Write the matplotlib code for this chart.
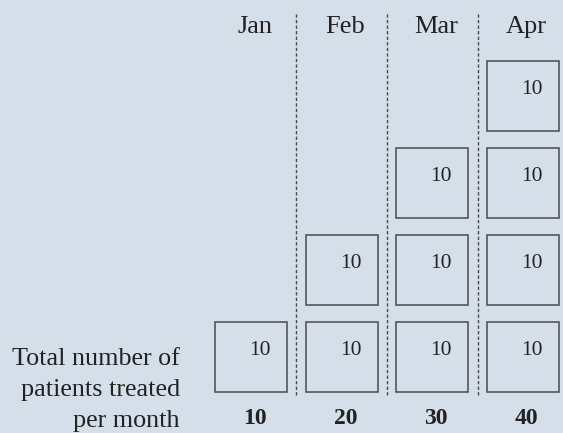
import matplotlib.pyplot as plt
from matplotlib.patches import Rectangle

months = ["Jan", "Feb", "Mar", "Apr"]
# patients treated, one entry per block of treatment in each month
box_values = [
    [10],
    [10, 10],
    [10, 10, 10],
    [10, 10, 10, 10],
]
row_label = ["Total number of", "patients treated", "per month"]

BG = "#d5dfea"
INK = "#222222"
EDGE = "#4a4a4a"

plt.rcParams["font.family"] = ["Liberation Serif", "DejaVu Serif"]
plt.rcParams["lines.scale_dashes"] = False

fig = plt.figure(figsize=(5.63, 4.33), dpi=100, facecolor=BG)
ax = fig.add_axes([0, 0, 1, 1])
ax.set_facecolor(BG)
ax.set_xlim(-2.768, 3.441)
ax.set_ylim(-0.874, 4.103)
ax.axis("off")

box_w, box_h = 0.794, 0.805

for i, vals in enumerate(box_values):
    for j, v in enumerate(vals):
        ax.add_patch(Rectangle((i - box_w / 2, j - box_h / 2), box_w, box_h,
                               facecolor="none", edgecolor=EDGE, linewidth=1.1))
        ax.text(i + 0.1, j + 0.023, f"{v}", ha="center", va="baseline",
                fontsize=15.5, color=INK)
    ax.text(i + 0.04, 3.724, months[i], ha="center", va="baseline",
            fontsize=19, color=INK)
    ax.text(i + 0.04, -0.770, f"{sum(vals)}", ha="center", va="baseline",
            fontsize=17, fontweight="bold", color=INK)

# dashed separators between month columns
for i in range(len(months) - 1):
    ax.plot([i + 0.5, i + 0.5], [-0.437, 3.966], color=EDGE, linewidth=1.0,
            linestyle=(0, (2.4, 1.6)))

for k, line in enumerate(row_label):
    ax.text(-0.783, -0.092 - 0.356 * k, line, ha="right", va="baseline",
            fontsize=18.8, color=INK)

fig.savefig("out.png", dpi=100, facecolor=BG)
